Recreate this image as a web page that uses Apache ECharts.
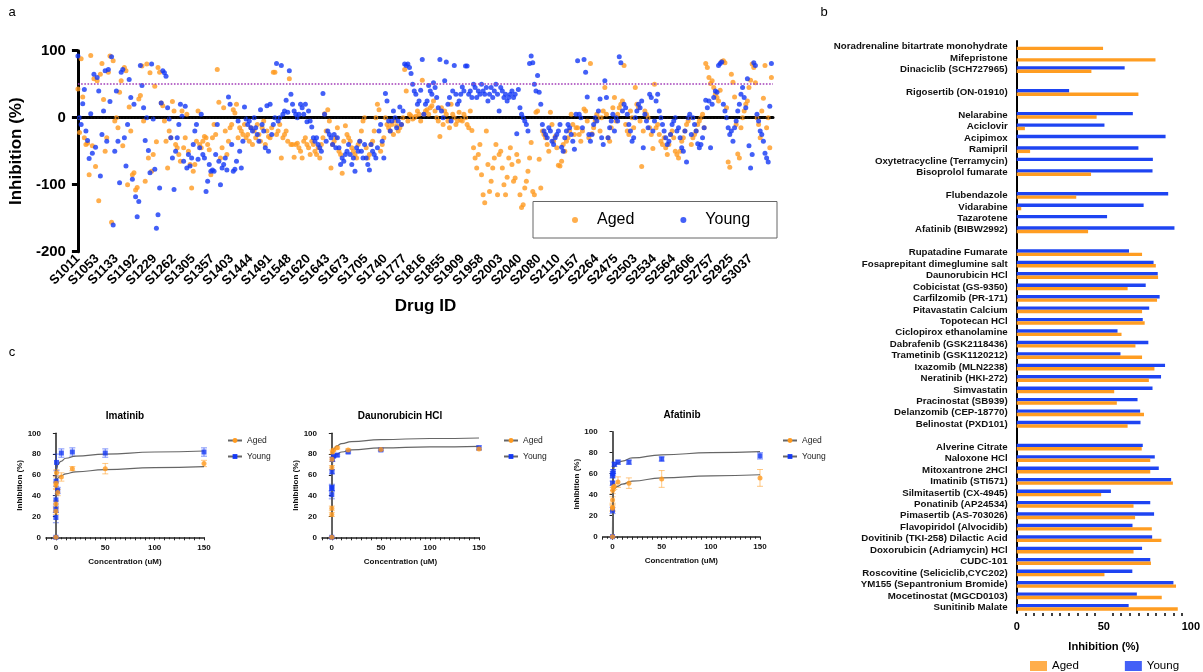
<!DOCTYPE html>
<html><head><meta charset="utf-8">
<script src="https://cdn.jsdelivr.net/npm/echarts@6/dist/echarts.min.js"></script>
<style>html,body{margin:0;padding:0;background:#fff}#c{width:1203px;height:672px}</style>
</head><body><div id="c"></div>
<script>
// ---------- Panel a: screening scatter ----------
const drugTickLabels = ['S1011','S1053','S1133','S1192','S1229','S1262','S1305','S1357','S1403','S1444','S1491','S1548','S1620','S1643','S1673','S1705','S1740','S1777','S1816','S1855','S1909','S1958','S2003','S2040','S2080','S2110','S2157','S2264','S2475','S2503','S2534','S2564','S2606','S2757','S2925','S3037'];
const pointsPerTick = 12;
const youngScreen = [
92,0,-10,21,42,-20,-34,-61,6,-53,65,-44,
60,40,-87,-25,10,70,-35,72,24,91,-160,-50,
40,-35,-97,68,72,-30,-72,-10,57,30,-92,20,
-118,-148,-125,78,48,15,-34,0,-49,-82,80,-2,
-77,-165,-145,-105,22,70,67,62,15,-2,-30,-60,
-107,-50,-30,-10,20,2,-65,17,-75,-55,-72,-60,
-40,-20,-10,-62,-45,5,-55,-60,-110,-95,-70,-80,
-78,-80,-55,-10,-65,-100,-75,-70,-60,-78,31,20,
-40,-80,-77,-65,-5,-50,-75,-35,16,-2,-10,-5,
-15,-20,0,-15,-25,-35,12,-10,-20,-45,18,-50,
20,-25,-10,0,81,-5,0,78,5,10,26,8,
70,35,20,10,5,0,5,20,15,5,20,-6,
10,-5,-14,-30,-35,-30,-40,-45,-50,36,5,-35,
-20,-25,-30,-40,-25,-45,-30,-45,-70,-60,-65,-55,
-50,-40,-55,-70,-60,-80,-45,-50,-35,-50,-60,-40,
-60,-70,-78,-40,-50,-55,-60,-45,-20,-10,-35,-60,
36,25,-5,-20,-5,10,0,-15,-5,16,-10,10,
80,78,80,75,66,50,40,35,20,25,41,87,
5,20,25,48,40,35,52,45,30,15,87,10,
0,55,83,20,30,-5,40,78,35,20,25,35,
46,40,77,77,35,40,30,50,45,30,40,35,
50,40,35,45,25,35,45,30,40,50,35,10,
45,40,30,35,25,30,35,40,30,35,-24,42,
15,5,0,-5,-10,-20,81,92,82,50,40,63,
38,20,-10,-20,-25,-30,-15,-20,-35,-40,-30,-25,
-20,-10,-44,-50,-30,-20,-10,-15,-25,-35,-47,5,
85,5,0,-15,87,68,31,-25,-35,-25,-10,0,
-5,10,28,-30,-40,55,30,-30,-15,-5,5,-20,
0,-5,91,82,10,20,15,5,-10,-20,-35,-30,
0,10,20,15,25,-45,5,-5,-15,35,30,-20,
-5,25,35,10,0,-10,-20,-30,-40,-35,-25,-10,
-5,0,-20,-15,-30,-45,-50,-20,-66,0,5,-25,
0,-10,-20,-39,-45,-40,-30,-15,26,15,25,-45,
20,30,40,38,78,81,83,20,10,0,-15,-25,
-20,-35,-15,-5,10,20,35,45,30,15,58,-42,
-75,-55,82,78,5,-5,-20,-25,-35,-53,-60,-66,17,81
];
const agedScreen = [
43,-22,88,31,-30,-40,-38,-85,93,-42,58,-73,
55,-124,65,81,27,-50,-30,68,92,-156,85,-5,
0,-15,38,55,-42,75,70,-100,16,-20,-85,-82,
-108,-104,28,33,77,-5,-95,80,-60,67,-80,-55,
47,-36,75,68,22,18,-5,-35,-75,-20,-30,24,
10,-40,-45,-55,-65,10,-45,-30,5,-50,-70,-105,
-80,-70,-35,10,-40,-45,-35,-28,-30,-40,-48,-85,
-30,-10,-25,72,23,-60,-45,15,-20,-55,-35,-15,
-10,12,7,20,-30,-15,-20,-25,-10,-30,-25,-35,
-15,-40,-20,-30,-10,-25,-35,-15,-5,-40,-20,-28,
-30,-15,68,68,-25,-20,-10,-60,-30,-25,-20,-35,
58,-40,-40,-59,-40,-38,-45,-50,-60,-35,-30,-40,
-45,-55,-35,-40,-50,-55,-45,-60,-40,-30,6,-20,
12,-5,-75,-40,-35,-30,-15,-50,-55,-83,-35,-12,
-25,-30,-35,-45,-50,-55,-60,-40,-35,-20,-5,0,
-45,-60,-55,-40,-35,-20,0,20,12,-50,-40,-30,
0,-10,-15,-20,-10,-25,-5,-12,-20,-15,-10,0,
72,40,-5,5,3,-2,0,2,10,5,-5,56,
5,10,12,5,15,18,25,10,0,-5,-28,15,
-10,10,5,-5,-15,20,5,0,-10,-5,8,-3,
-5,5,0,-10,-15,10,-19,-45,-60,-75,-55,-40,
-85,-115,-127,-20,-70,-110,-95,-75,-60,-40,-115,-55,
-50,-75,-100,-115,-89,-60,-45,-70,-95,-90,-55,-65,
-115,-134,-130,-105,-95,-80,-60,-37,-110,-115,8,10,
-62,-105,-20,-25,-30,-40,-50,8,-10,-35,-28,-45,
-71,-72,-65,-40,-50,-35,-30,-20,5,-10,-25,-15,
-15,-25,-35,-20,13,10,-5,-30,81,-24,-15,-5,
5,0,-20,0,10,45,5,-30,-35,-15,15,30,
-5,5,15,20,25,78,-10,-20,-25,10,0,-15,
45,20,15,-5,-73,-20,10,5,0,-15,-25,-46,
50,-15,-10,-25,-35,-40,-30,-45,-55,-40,-25,-20,
-30,-50,-55,-60,-50,-35,-30,-20,-10,-5,0,-40,
-30,-25,-20,-10,-5,0,5,-15,81,75,60,51,
55,45,35,30,25,41,84,85,82,15,-66,-74,
65,53,31,-10,-54,-60,-15,0,10,20,25,45,
56,80,75,52,0,-10,-30,10,29,78,-15,0,-45,60
];

// ---------- Panel b: hit list bars ----------
const barDrugs = ['Noradrenaline bitartrate monohydrate','Mifepristone','Dinaciclib (SCH727965)',' ','Rigosertib (ON-01910)','  ','Nelarabine','Aciclovir','Acipimox','Ramipril','Oxytetracycline (Terramycin)','Bisoprolol fumarate','   ','Flubendazole','Vidarabine','Tazarotene','Afatinib (BIBW2992)','    ','Rupatadine Fumarate','Fosaprepitant dimeglumine salt','Daunorubicin HCl','Cobicistat (GS-9350)','Carfilzomib (PR-171)','Pitavastatin Calcium','Topotecan HCl','Ciclopirox ethanolamine','Dabrafenib (GSK2118436)','Trametinib (GSK1120212)','Ixazomib (MLN2238)','Neratinib (HKI-272)','Simvastatin','Pracinostat (SB939)','Delanzomib (CEP-18770)','Belinostat (PXD101)','     ','Alverine Citrate','Naloxone HCl','Mitoxantrone 2HCl','Imatinib (STI571)','Silmitasertib (CX-4945)','Ponatinib (AP24534)','Pimasertib (AS-703026)','Flavopiridol (Alvocidib)','Dovitinib (TKI-258) Dilactic Acid','Doxorubicin (Adriamycin) HCl','CUDC-101','Roscovitine (Seliciclib,CYC202)','YM155 (Sepantronium Bromide)','Mocetinostat (MGCD0103)','Sunitinib Malate'];
const barYoung = [null,null,62.0,null,30.1,null,66.7,50.4,85.5,69.9,78.2,78.0,null,87.0,72.9,51.9,90.6,null,64.5,78.6,81.0,74.1,82.1,76.1,72.4,57.9,75.6,59.6,85.2,82.9,78.0,69.4,70.9,71.1,null,72.4,79.3,81.6,88.7,54.1,76.7,78.9,66.5,77.8,72.0,76.7,66.4,90.0,69.0,64.3];
const barAged = [49.6,79.7,42.9,null,69.9,null,45.9,4.7,null,7.7,null,42.7,null,34.2,2.6,null,41.0,null,72.0,79.9,81.2,63.7,80.6,72.0,73.5,60.2,68.2,72.0,79.1,75.9,56.0,57.5,73.1,63.7,null,71.8,76.7,76.7,89.7,48.5,67.1,68.0,77.6,83.1,67.1,77.1,50.4,91.5,83.3,92.5];

// ---------- Panel c: dose responses ----------
const conc = [150,50,16.67,5.56,1.85,0.617,0.206,0.0686,0.0229,0.00762,0];
const imatinibAged = [71,66,66,58,43,62,52,50,32,25,0];
const imatinibAgedSd = [3,5,2,4,3,3,6,3,3,3,0];
const imatinibYoung = [82,81,82,81,45,72,54,36,27,19,0];
const imatinibYoungSd = [4,4,4,4,3,8,5,4,3,5,0];
const daunoAged = [85,84.5,84,86,84,82,75,67,28,22,0];
const daunoAgedSd = [1,1,1,1,1,2,2,2,2,2,0];
const daunoYoung = [86,84,82,79,78,75,63,48,47,41,0];
const daunoYoungSd = [2,1,1,1,1,2,2,3,3,4,0];
const afatinibAged = [56,55,51,52,48,47,44,35,28,27,0];
const afatinibAgedSd = [8,8,5,5,3,3,3,3,3,3,0];
const afatinibYoung = [77,74,71,71,69,62,60,58,51,25,0];
const afatinibYoungSd = [3,2,2,2,2,2,2,2,2,3,0];
const fitConc = [0,0.2,0.5,1,2,5,10,20,50,100,150];
const imatinibAgedFit = [0,40,50,54,57,59,61,63,65,67,68];
const imatinibYoungFit = [0,50,62,66,70,73,76,78,80,82,83];
const daunoAgedFit = [0,55,68,74,78,80,82,84,86,87,87.5];
const daunoYoungFit = [0,62,74,80,85,88,90,92,94,95,95.5];
const afatinibAgedFit = [0,35,42,45,46,48,50,53,56,58,59];
const afatinibYoungFit = [0,50,60,64,67,70,72,75,78,80,81];

const FONT = '"Liberation Sans", Arial, Helvetica, sans-serif';
const ORANGE = '#FF9A1F';
const BLUE = '#1438F5';
const ORANGE_BAR = '#FF9D22';
const BLUE_BAR = '#1E44F2';

const chart = echarts.init(document.getElementById('c'));

function errRender(params, api) {
  const x = api.value(0), lo = api.value(1), hi = api.value(2);
  const p1 = api.coord([x, hi]), p2 = api.coord([x, lo]);
  const c = api.visual('color');
  const st = {stroke: c, lineWidth: 1, opacity: 0.55};
  return {type: 'group', children: [
    {type: 'line', shape: {x1: p1[0], y1: p1[1], x2: p2[0], y2: p2[1]}, style: st},
    {type: 'line', shape: {x1: p1[0]-3, y1: p1[1], x2: p1[0]+3, y2: p1[1]}, style: st},
    {type: 'line', shape: {x1: p2[0]-3, y1: p2[1], x2: p2[0]+3, y2: p2[1]}, style: st}
  ]};
}

const cGrids = [
  {left: 46, top: 433.3, width: 158, height: 104},
  {left: 322, top: 433.3, width: 157, height: 104},
  {left: 602.7, top: 431.7, width: 157.3, height: 105}
];
const cData = [
  {aged: imatinibAged, agedSd: imatinibAgedSd, young: imatinibYoung, youngSd: imatinibYoungSd, agedFit: imatinibAgedFit, youngFit: imatinibYoungFit},
  {aged: daunoAged, agedSd: daunoAgedSd, young: daunoYoung, youngSd: daunoYoungSd, agedFit: daunoAgedFit, youngFit: daunoYoungFit},
  {aged: afatinibAged, agedSd: afatinibAgedSd, young: afatinibYoung, youngSd: afatinibYoungSd, agedFit: afatinibAgedFit, youngFit: afatinibYoungFit}
];

const grids = [
  {left: 77, top: 50.7, width: 696, height: 201},
  {left: 1016.7, top: 41, width: 177.3, height: 572}
].concat(cGrids);

const xAxes = [
  {gridIndex: 0, type: 'value', min: 0, max: 434, interval: pointsPerTick,
   axisLine: {lineStyle: {color: '#000', width: 3}}, axisTick: {show: false}, splitLine: {show: false},
   axisLabel: {rotate: 45, margin: 5, fontFamily: FONT, fontWeight: 'bold', fontSize: 13, color: '#000',
     formatter: v => (v % pointsPerTick === 0 && drugTickLabels[v / pointsPerTick]) ? drugTickLabels[v / pointsPerTick] : ''},
   name: 'Drug ID', nameLocation: 'middle', nameGap: 46,
   nameTextStyle: {fontFamily: FONT, fontWeight: 'bold', fontSize: 17, color: '#000'}},
  {gridIndex: 1, type: 'value', min: 0, max: 100, interval: 50,
   axisLine: {lineStyle: {color: '#000', width: 2}},
   axisTick: {length: 5, lineStyle: {width: 2, color: '#000'}},
   minorTick: {show: true, splitNumber: 10, length: 3, lineStyle: {width: 1.5, color: '#000'}},
   splitLine: {show: false},
   axisLabel: {margin: 8, fontFamily: FONT, fontWeight: 'bold', fontSize: 11, color: '#000'},
   name: 'Inhibition (%)', nameLocation: 'middle', nameGap: 28,
   nameTextStyle: {fontFamily: FONT, fontWeight: 'bold', fontSize: 11.2, color: '#000'}}
];
const yAxes = [
  {gridIndex: 0, type: 'value', min: -200, max: 100, interval: 100,
   axisLine: {show: true, lineStyle: {color: '#000', width: 3}},
   axisTick: {show: true, length: 6, lineStyle: {width: 3, color: '#000'}},
   splitLine: {show: false},
   axisLabel: {margin: 12, fontFamily: FONT, fontWeight: 'bold', fontSize: 15, color: '#000'},
   name: 'Inhibition (%)', nameLocation: 'middle', nameGap: 46,
   nameTextStyle: {fontFamily: FONT, fontWeight: 'bold', fontSize: 17, color: '#000'}},
  {gridIndex: 1, type: 'category', inverse: true, data: barDrugs,
   axisLine: {show: true, lineStyle: {color: '#000', width: 2}},
   axisTick: {show: false}, splitLine: {show: false},
   axisLabel: {margin: 9, fontFamily: FONT, fontWeight: 'bold', fontSize: 9.7, color: '#111', interval: 0}}
];

cGrids.forEach((g, k) => {
  xAxes.push({gridIndex: k + 2, type: 'value', min: -10, max: 150, interval: 10,
    axisLine: {lineStyle: {color: '#222', width: 1.5}},
    axisTick: {length: 3, lineStyle: {width: 1, color: '#222'}},
    minorTick: {show: true, splitNumber: 2, length: 2, lineStyle: {width: 1, color: '#222'}},
    splitLine: {show: false},
    axisLabel: {margin: 6, fontFamily: FONT, fontWeight: 'bold', fontSize: 8, color: '#111',
      formatter: v => ([0, 50, 100, 150].indexOf(v) >= 0 ? String(v) : '')},
    name: 'Concentration (uM)', nameLocation: 'middle', nameGap: 20,
    nameTextStyle: {fontFamily: FONT, fontWeight: 'bold', fontSize: 8, color: '#111'}});
  yAxes.push({gridIndex: k + 2, type: 'value', min: 0, max: 100, interval: 20,
    axisLine: {show: true, lineStyle: {color: '#222', width: 1.5}},
    axisTick: {show: true, length: 3, lineStyle: {width: 1, color: '#222'}},
    splitLine: {show: false},
    axisLabel: {margin: 5, fontFamily: FONT, fontWeight: 'bold', fontSize: 8, color: '#111'},
    name: 'Inhibition (%)', nameLocation: 'middle', nameGap: 22,
    nameTextStyle: {fontFamily: FONT, fontWeight: 'bold', fontSize: 8, color: '#111'}});
});

const series = [
  {name: 'Aged', type: 'scatter', xAxisIndex: 0, yAxisIndex: 0, symbolSize: 5,
   itemStyle: {color: ORANGE}, data: agedScreen.map((v, i) => [i, v])},
  {name: 'Young', type: 'scatter', xAxisIndex: 0, yAxisIndex: 0, symbolSize: 5,
   itemStyle: {color: BLUE}, data: youngScreen.map((v, i) => [i, v]),
   markLine: {silent: true, symbol: 'none', label: {show: false},
     lineStyle: {type: 'dotted', width: 1.6},
     data: [{yAxis: 50, lineStyle: {color: '#A23DB8', type: 'dotted', width: 1.6}},
            {yAxis: 0, lineStyle: {color: '#111', type: 'dotted', width: 1.6}}]}},
  {name: 'Young', type: 'bar', xAxisIndex: 1, yAxisIndex: 1, barWidth: 3.4, barGap: '0%',
   itemStyle: {color: BLUE_BAR}, data: barYoung},
  {name: 'Aged', type: 'bar', xAxisIndex: 1, yAxisIndex: 1, barWidth: 3.4, barGap: '0%',
   itemStyle: {color: ORANGE_BAR}, data: barAged}
];

cData.forEach((d, k) => {
  const ax = k + 2;
  series.push({name: 'Aged ', type: 'line', xAxisIndex: ax, yAxisIndex: ax, smooth: true, smoothMonotone: 'x',
    symbol: 'circle', symbolSize: 5, showSymbol: false, itemStyle: {color: ORANGE},
    lineStyle: {color: '#666', width: 1.2}, data: fitConc.map((c, i) => [c, d.agedFit[i]]), z: 3});
  series.push({name: 'Young ', type: 'line', xAxisIndex: ax, yAxisIndex: ax, smooth: true, smoothMonotone: 'x',
    symbol: 'rect', symbolSize: 5, showSymbol: false, itemStyle: {color: BLUE},
    lineStyle: {color: '#666', width: 1.2}, data: fitConc.map((c, i) => [c, d.youngFit[i]]), z: 3});
  series.push({type: 'custom', xAxisIndex: ax, yAxisIndex: ax, renderItem: errRender, itemStyle: {color: BLUE}, z: 2,
    data: conc.map((c, i) => [c, d.young[i] - d.youngSd[i], d.young[i] + d.youngSd[i]])});
  series.push({type: 'custom', xAxisIndex: ax, yAxisIndex: ax, renderItem: errRender, itemStyle: {color: ORANGE}, z: 2,
    data: conc.map((c, i) => [c, d.aged[i] - d.agedSd[i], d.aged[i] + d.agedSd[i]])});
  series.push({type: 'scatter', xAxisIndex: ax, yAxisIndex: ax, symbol: 'rect', symbolSize: 5,
    itemStyle: {color: BLUE}, z: 4, data: conc.map((c, i) => [c, d.young[i]])});
  series.push({type: 'scatter', xAxisIndex: ax, yAxisIndex: ax, symbol: 'circle', symbolSize: 5,
    itemStyle: {color: ORANGE}, z: 5, data: conc.map((c, i) => [c, d.aged[i]])});
});

const cLegendLeft = [227, 503, 782];
const legends = [
  {left: 572, top: 212, padding: 0, itemWidth: 6, itemHeight: 6, itemGap: 46, icon: 'circle', z: 12,
   data: ['Aged', 'Young'], selectedMode: false,
   textStyle: {fontFamily: FONT, fontSize: 16, color: '#000', padding: [0, 0, 0, 14]}},
  {left: 1030, top: 660, padding: 0, itemWidth: 17, itemHeight: 10, itemGap: 46, selectedMode: false,
   data: [{name: 'Aged', icon: 'rect'}, {name: 'Young', icon: 'rect'}],
   textStyle: {fontFamily: FONT, fontSize: 11.5, color: '#000'}}
].concat(cLegendLeft.map(l => ({left: l, top: 436, padding: 0, orient: 'vertical', itemWidth: 14, itemHeight: 6, itemGap: 7,
   selectedMode: false, data: ['Aged ', 'Young '],
   textStyle: {fontFamily: FONT, fontSize: 8.5, color: '#222'}})));

const txt = (t, x, y, size, weight) => ({type: 'text', z: 20,
  style: {text: t, x: x, y: y, textAlign: 'center', textVerticalAlign: 'middle',
    font: (weight || 'normal') + ' ' + size + 'px ' + FONT, fill: '#000'}});

chart.setOption({
  backgroundColor: '#fff',
  animation: false,
  grid: grids,
  xAxis: xAxes,
  yAxis: yAxes,
  legend: legends,
  series: series,
  graphic: [
    {type: 'rect', z: 10, shape: {x: 533, y: 201.5, width: 244, height: 36.5},
     style: {fill: '#fff', stroke: '#666', lineWidth: 1}},
    txt('a', 12, 12, 13), txt('b', 824, 12, 13), txt('c', 12, 352, 13),
    txt('Imatinib', 125, 416.5, 10, 'bold'),
    txt('Daunorubicin HCl', 400, 416.5, 10, 'bold'),
    txt('Afatinib', 682, 415, 10, 'bold')
  ]
});
</script>
</body></html>
